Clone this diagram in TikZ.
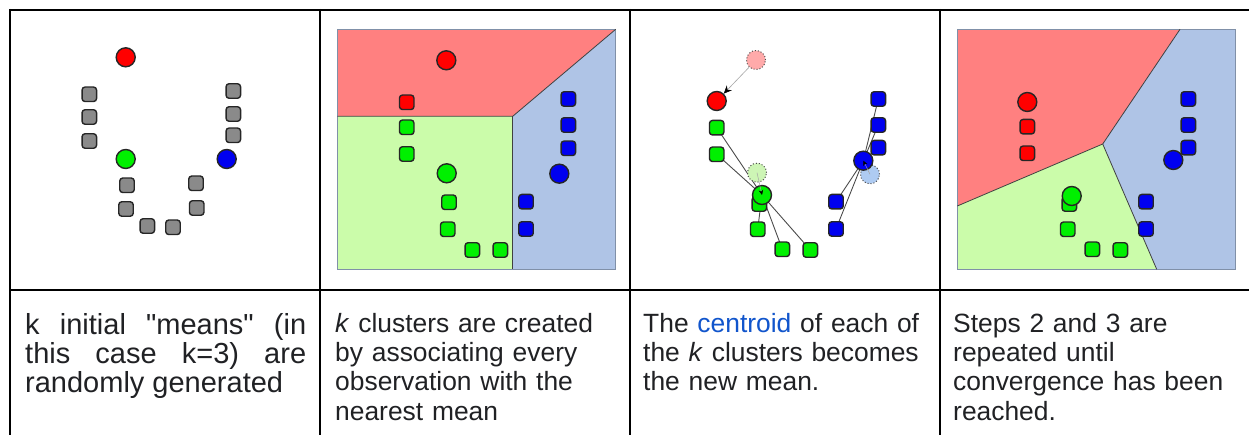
\documentclass[tikz,border=0pt]{standalone}
\usepackage{fontspec}
\setmainfont{Liberation Sans}
\usetikzlibrary{arrows.meta}
\pgfdeclarelayer{background}
\pgfsetlayers{background,main}
\definecolor{txt}{HTML}{202124}
\definecolor{linkblue}{HTML}{1155CC}
\definecolor{ptgray}{HTML}{8A8A8A}
\definecolor{ptred}{HTML}{FF0000}
\definecolor{ptgreen}{HTML}{00F000}
\definecolor{ptblue}{HTML}{0000F0}
\definecolor{regred}{HTML}{FF8080}
\definecolor{reggreen}{HTML}{CBFCAA}
\definecolor{regblue}{HTML}{AFC4E6}
\definecolor{regedge}{HTML}{8090A8}
\definecolor{oldred}{HTML}{FFAAAA}
\definecolor{oldgreen}{HTML}{CDF5B5}
\definecolor{oldblue}{HTML}{AECBF2}
\tikzset{
  grid/.style={line width=2pt, black},
  obs/.style={rectangle, rounded corners=3pt, minimum size=14.5pt, inner sep=0pt, draw=black!85, line width=1.4pt},
  mean/.style={circle, minimum size=19pt, inner sep=0pt, draw=black!85, line width=1.4pt},
  oldmean/.style={circle, minimum size=19pt, inner sep=0pt, draw=black!70, line width=1pt, dotted},
  boundary/.style={draw=black!75, line width=0.8pt},
  link/.style={draw=black!70, line width=0.9pt},
  cell/.style={anchor=north west, inner sep=0pt, text=txt, text width=290pt, align=left,
    font=\fontsize{26.4}{29.3}\selectfont},
  cellj/.style={anchor=north west, inner sep=0pt, text=txt, text width=281pt, align=justify,
    font=\fontsize{29}{29.3}\selectfont}
}
\begin{document}
\begin{tikzpicture}[x=1pt,y=-1pt]
\useasboundingbox (0,0) rectangle (1249,435);
\begin{pgfonlayer}{background}
\fill[white] (0,0) rectangle (1249,435);
\end{pgfonlayer}

% ---------- table grid ----------
\draw[grid] (9,10) -- (1249,10);
\draw[grid] (9,290) -- (1249,290);
\foreach \xx in {10,320,630,940} { \draw[grid] (\xx,9) -- (\xx,435); }

% ---------- panel 1 ----------
\foreach \px/\py [count=\i] in {89.3/94.3, 89.3/117, 89.3/141, 233.3/91, 233.3/114, 233.3/135.3,
  127/185.3, 126/209, 147.3/226, 173/227.3, 196/183.3, 196.7/208}
  { \node[obs, fill=ptgray] (a\i) at (\px,\py) {}; }
\node[mean, fill=ptred] (am1) at (125.7,57.3) {};
\node[mean, fill=ptgreen] (am2) at (125.7,159) {};
\node[mean, fill=ptblue] (am3) at (226.7,159) {};

% ---------- panel 2 ----------
\fill[regred] (337.3,29.3) -- (615.7,29.3) -- (512.7,116.3) -- (337.3,116.3) -- cycle;
\fill[reggreen] (337.3,116.3) -- (512.7,116.3) -- (512.7,269.3) -- (337.3,269.3) -- cycle;
\fill[regblue] (512.7,116.3) -- (615.7,29.3) -- (615.7,269.3) -- (512.7,269.3) -- cycle;
\draw[draw=regedge, line width=0.8pt] (337.3,29.3) rectangle (615.7,269.3);
\draw[boundary] (615.7,29.3) -- (512.7,116.3) -- (337.3,116.3);
\draw[boundary] (512.7,116.3) -- (512.7,269.3);
\node[obs, fill=ptred] (b1) at (406.7,102.3) {};
\foreach \px/\py [count=\i] in {406.7/127.3, 406.7/154, 449/202.3, 447.7/229.3, 472.3/250, 500.3/250}
  { \node[obs, fill=ptgreen] (bg\i) at (\px,\py) {}; }
\foreach \px/\py [count=\i] in {568.3/99, 568.3/125, 568.3/148.3, 526/201.7, 526/229}
  { \node[obs, fill=ptblue] (bb\i) at (\px,\py) {}; }
\node[mean, fill=ptred] (bm1) at (446.3,60.3) {};
\node[mean, fill=ptgreen] (bm2) at (446.7,173.3) {};
\node[mean, fill=ptblue] (bm3) at (559.3,173.7) {};

% ---------- panel 3 ----------
\node[oldmean, fill=oldred] (co1) at (756,60) {};
\node[oldmean, fill=oldgreen] (co2) at (757,172.7) {};
\node[oldmean, fill=oldblue] (co3) at (870,174.3) {};
\node[obs, fill=ptgreen] (cg6) at (759.3,204) {};
\node[mean, fill=ptred] (cm1) at (716.7,101) {};
\node[mean, fill=ptgreen] (cm2) at (762,195) {};
\node[mean, fill=ptblue] (cm3) at (863.3,160.7) {};
\foreach \px/\py [count=\i] in {716.7/127.7, 716.7/154.3, 757.7/229.3, 782.3/249.3, 810.3/250}
  { \node[obs, fill=ptgreen] (cg\i) at (\px,\py) {}; }
\foreach \px/\py [count=\i] in {878.3/99, 878.3/125, 878.3/147.7, 836/201.7, 836/229}
  { \node[obs, fill=ptblue] (cb\i) at (\px,\py) {}; }
\begin{pgfonlayer}{background}
  \foreach \i in {1,...,5} { \draw[link] (cg\i.center) -- (cm2.center); \draw[link] (cb\i.center) -- (cm3.center); }
\end{pgfonlayer}
\draw[draw=black!35, line width=0.6pt, -{Stealth[length=8pt,width=7pt,black]}] (co1) -- (cm1);
\draw[draw=black!35, line width=0.5pt, -{Stealth[length=5pt,width=4.5pt,black]}] (co2.center) -- (cm2.center);
\draw[draw=black!35, line width=0.5pt, -{Stealth[length=5pt,width=4.5pt,black]}] (co3.center) -- (cm3.center);

% ---------- panel 4 ----------
\fill[regred] (957.3,29.3) -- (1180,29.3) -- (1102.7,144) -- (957.3,206) -- cycle;
\fill[reggreen] (957.3,206) -- (1102.7,144) -- (1156.7,269.3) -- (957.3,269.3) -- cycle;
\fill[regblue] (1180,29.3) -- (1235.7,29.3) -- (1235.7,269.3) -- (1156.7,269.3) -- (1102.7,144) -- cycle;
\draw[draw=regedge, line width=0.8pt] (957.3,29.3) rectangle (1235.7,269.3);
\draw[boundary] (1180,29.3) -- (1102.7,144) -- (957.3,206);
\draw[boundary] (1102.7,144) -- (1156.7,269.3);
\node[obs, fill=ptred] (dr1) at (1027.3,126.7) {};
\node[obs, fill=ptred] (dr2) at (1027.3,153.3) {};
\node[obs, fill=ptgreen] (dg1) at (1069.3,204) {};
\foreach \px/\py [count=\i] in {1067.7/229.3, 1092.3/249.3, 1120.3/250}
  { \node[obs, fill=ptgreen] (dg\the\numexpr\i+1\relax) at (\px,\py) {}; }
\foreach \px/\py [count=\i] in {1188.3/99, 1188.3/125, 1188.3/147.7, 1146/201.7, 1146/229}
  { \node[obs, fill=ptblue] (db\i) at (\px,\py) {}; }
\node[mean, fill=ptred] (dm1) at (1027.3,102) {};
\node[mean, fill=ptgreen] (dm2) at (1071.7,196) {};
\node[mean, fill=ptblue] (dm3) at (1173.3,160) {};

% ---------- text cells ----------
\node[cellj] (t1) at (25,313) {k initial \textquotedbl means\textquotedbl{} (in\linebreak this case k=3) are\linebreak randomly generated};
\node[cell] (t2) at (335,313) {\textit{k} clusters are created\\by associating every\\observation with the\\nearest mean};
\node[cell] (t3) at (643,313) {The \textcolor{linkblue}{centroid} of each of\\the \textit{k} clusters becomes\\the new mean.};
\node[cell] (t4) at (953,313) {Steps 2 and 3 are\\repeated until\\convergence has been\\reached.};
\end{tikzpicture}
\end{document}
